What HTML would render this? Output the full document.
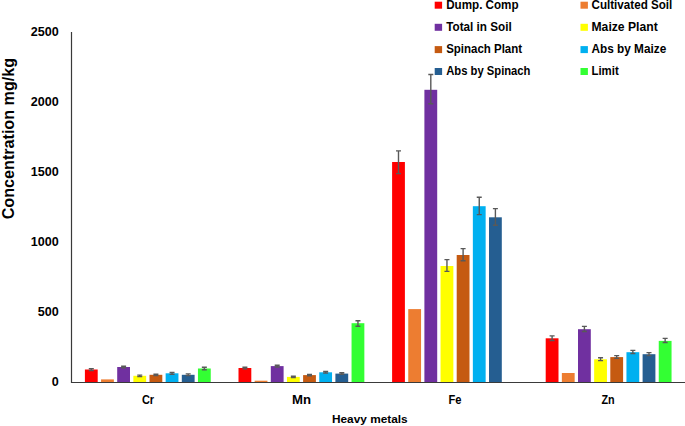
<!DOCTYPE html>
<html><head><meta charset="utf-8"><title>Heavy metals chart</title>
<style>html,body{margin:0;padding:0;background:#fff;}body{width:685px;height:426px;overflow:hidden;font-family:"Liberation Sans",sans-serif;}svg{display:block;}</style>
</head><body>
<svg width="685" height="426" viewBox="0 0 685 426">
<rect width="685" height="426" fill="#fff"/>
<g><rect x="84.90" y="369.50" width="12.80" height="12.50" fill="#FF0000"/><rect x="101.05" y="379.40" width="12.80" height="2.60" fill="#ED7D31"/><rect x="117.20" y="367.00" width="12.80" height="15.00" fill="#7030A0"/><rect x="133.35" y="375.80" width="12.80" height="6.20" fill="#FFFF00"/><rect x="149.50" y="374.80" width="12.80" height="7.20" fill="#C55A11"/><rect x="165.65" y="373.30" width="12.80" height="8.70" fill="#00B0F0"/><rect x="181.80" y="374.80" width="12.80" height="7.20" fill="#255E91"/><rect x="197.95" y="368.50" width="12.80" height="13.50" fill="#33FF33"/><rect x="238.50" y="368.00" width="12.80" height="14.00" fill="#FF0000"/><rect x="254.65" y="380.70" width="12.80" height="1.30" fill="#ED7D31"/><rect x="270.80" y="366.10" width="12.80" height="15.90" fill="#7030A0"/><rect x="286.95" y="376.90" width="12.80" height="5.10" fill="#FFFF00"/><rect x="303.10" y="375.10" width="12.80" height="6.90" fill="#C55A11"/><rect x="319.25" y="372.30" width="12.80" height="9.70" fill="#00B0F0"/><rect x="335.40" y="373.60" width="12.80" height="8.40" fill="#255E91"/><rect x="351.55" y="323.20" width="12.80" height="58.80" fill="#33FF33"/><rect x="392.10" y="162.00" width="12.80" height="220.00" fill="#FF0000"/><rect x="408.25" y="309.10" width="12.80" height="72.90" fill="#ED7D31"/><rect x="424.40" y="89.80" width="12.80" height="292.20" fill="#7030A0"/><rect x="440.55" y="266.00" width="12.80" height="116.00" fill="#FFFF00"/><rect x="456.70" y="255.00" width="12.80" height="127.00" fill="#C55A11"/><rect x="472.85" y="206.20" width="12.80" height="175.80" fill="#00B0F0"/><rect x="489.00" y="217.30" width="12.80" height="164.70" fill="#255E91"/><rect x="545.70" y="338.30" width="12.80" height="43.70" fill="#FF0000"/><rect x="561.85" y="373.00" width="12.80" height="9.00" fill="#ED7D31"/><rect x="578.00" y="329.20" width="12.80" height="52.80" fill="#7030A0"/><rect x="594.15" y="359.30" width="12.80" height="22.70" fill="#FFFF00"/><rect x="610.30" y="357.10" width="12.80" height="24.90" fill="#C55A11"/><rect x="626.45" y="352.20" width="12.80" height="29.80" fill="#00B0F0"/><rect x="642.60" y="354.20" width="12.80" height="27.80" fill="#255E91"/><rect x="658.75" y="340.90" width="12.80" height="41.10" fill="#33FF33"/></g>
<g stroke="#595959" stroke-width="1.4" fill="none"><path d="M91.30 368.60V370.50M88.80 368.60H93.80M88.80 370.50H93.80"/><path d="M123.60 366.20V367.80M121.10 366.20H126.10M121.10 367.80H126.10"/><path d="M139.75 375.10V376.60M137.25 375.10H142.25M137.25 376.60H142.25"/><path d="M155.90 374.10V375.50M153.40 374.10H158.40M153.40 375.50H158.40"/><path d="M172.05 372.40V374.20M169.55 372.40H174.55M169.55 374.20H174.55"/><path d="M188.20 373.90V375.60M185.70 373.90H190.70M185.70 375.60H190.70"/><path d="M204.35 367.20V369.70M201.85 367.20H206.85M201.85 369.70H206.85"/><path d="M244.90 367.20V368.90M242.40 367.20H247.40M242.40 368.90H247.40"/><path d="M277.20 365.20V367.00M274.70 365.20H279.70M274.70 367.00H279.70"/><path d="M293.35 376.20V377.60M290.85 376.20H295.85M290.85 377.60H295.85"/><path d="M309.50 374.40V375.80M307.00 374.40H312.00M307.00 375.80H312.00"/><path d="M325.65 371.50V373.10M323.15 371.50H328.15M323.15 373.10H328.15"/><path d="M341.80 372.80V374.40M339.30 372.80H344.30M339.30 374.40H344.30"/><path d="M357.95 320.80V326.30M355.45 320.80H360.45M355.45 326.30H360.45"/><path d="M398.50 150.90V173.60M396.00 150.90H401.00M396.00 173.60H401.00"/><path d="M430.80 74.50V103.70M428.30 74.50H433.30M428.30 103.70H433.30"/><path d="M446.95 259.60V271.40M444.45 259.60H449.45M444.45 271.40H449.45"/><path d="M463.10 248.60V260.80M460.60 248.60H465.60M460.60 260.80H465.60"/><path d="M479.25 197.30V214.60M476.75 197.30H481.75M476.75 214.60H481.75"/><path d="M495.40 208.60V225.30M492.90 208.60H497.90M492.90 225.30H497.90"/><path d="M552.10 335.90V340.50M549.60 335.90H554.60M549.60 340.50H554.60"/><path d="M584.40 326.40V331.50M581.90 326.40H586.90M581.90 331.50H586.90"/><path d="M600.55 357.80V360.60M598.05 357.80H603.05M598.05 360.60H603.05"/><path d="M616.70 355.60V358.40M614.20 355.60H619.20M614.20 358.40H619.20"/><path d="M632.85 350.40V353.50M630.35 350.40H635.35M630.35 353.50H635.35"/><path d="M649.00 352.60V355.60M646.50 352.60H651.50M646.50 355.60H651.50"/><path d="M665.15 338.40V342.50M662.65 338.40H667.65M662.65 342.50H667.65"/></g>
<path d="M71.5 32V382.5H685" stroke="#3a3a3a" stroke-width="1.2" fill="none"/>
<g font-family="Liberation Sans, sans-serif" font-weight="bold" fill="#000">
<text x="58.8" y="386.1" font-size="12.6" text-anchor="end">0</text><text x="58.8" y="316.1" font-size="12.6" text-anchor="end">500</text><text x="58.8" y="246.1" font-size="12.6" text-anchor="end">1000</text><text x="58.8" y="176.1" font-size="12.6" text-anchor="end">1500</text><text x="58.8" y="106.1" font-size="12.6" text-anchor="end">2000</text><text x="58.8" y="36.1" font-size="12.6" text-anchor="end">2500</text><text x="141.90" y="404" font-size="12.3" text-anchor="start" textLength="12.2" lengthAdjust="spacingAndGlyphs">Cr</text><text x="292.00" y="404" font-size="12.3" text-anchor="start" textLength="19.0" lengthAdjust="spacingAndGlyphs">Mn</text><text x="448.50" y="404" font-size="12.3" text-anchor="start" textLength="13.0" lengthAdjust="spacingAndGlyphs">Fe</text><text x="601.40" y="404" font-size="12.3" text-anchor="start" textLength="13.2" lengthAdjust="spacingAndGlyphs">Zn</text><text x="332.0" y="423.3" font-size="11.6" text-anchor="start" textLength="75.6" lengthAdjust="spacingAndGlyphs">Heavy metals</text><text transform="translate(14.3 219.3) rotate(-90)" font-size="16" textLength="161.4" lengthAdjust="spacingAndGlyphs">Concentration mg/kg</text>
<rect x="434.7" y="1.7" width="7.4" height="7.0" fill="#FF0000"/><text x="446.2" y="9.0" font-size="12.0" text-anchor="start" textLength="72.4" lengthAdjust="spacingAndGlyphs">Dump. Comp</text><rect x="580.5" y="1.7" width="7.4" height="7.0" fill="#ED7D31"/><text x="591.5" y="9.0" font-size="12.0" text-anchor="start" textLength="80.8" lengthAdjust="spacingAndGlyphs">Cultivated Soil</text><rect x="434.7" y="23.8" width="7.4" height="7.0" fill="#7030A0"/><text x="446.2" y="31.1" font-size="12.0" text-anchor="start" textLength="65.5" lengthAdjust="spacingAndGlyphs">Total in Soil</text><rect x="580.5" y="23.8" width="7.4" height="7.0" fill="#FFFF00"/><text x="591.5" y="31.1" font-size="12.0" text-anchor="start" textLength="66.2" lengthAdjust="spacingAndGlyphs">Maize Plant</text><rect x="434.7" y="46.1" width="7.4" height="7.0" fill="#C55A11"/><text x="446.2" y="53.3" font-size="12.0" text-anchor="start" textLength="75.9" lengthAdjust="spacingAndGlyphs">Spinach Plant</text><rect x="580.5" y="46.1" width="7.4" height="7.0" fill="#00B0F0"/><text x="591.5" y="53.3" font-size="12.0" text-anchor="start" textLength="74.7" lengthAdjust="spacingAndGlyphs">Abs by Maize</text><rect x="434.7" y="68.0" width="7.4" height="7.0" fill="#255E91"/><text x="446.2" y="75.0" font-size="12.0" text-anchor="start" textLength="84.3" lengthAdjust="spacingAndGlyphs">Abs by Spinach</text><rect x="580.5" y="68.0" width="7.4" height="7.0" fill="#33FF33"/><text x="591.5" y="75.0" font-size="12.0" text-anchor="start" textLength="27.2" lengthAdjust="spacingAndGlyphs">Limit</text>
</g>
</svg>
</body></html>
